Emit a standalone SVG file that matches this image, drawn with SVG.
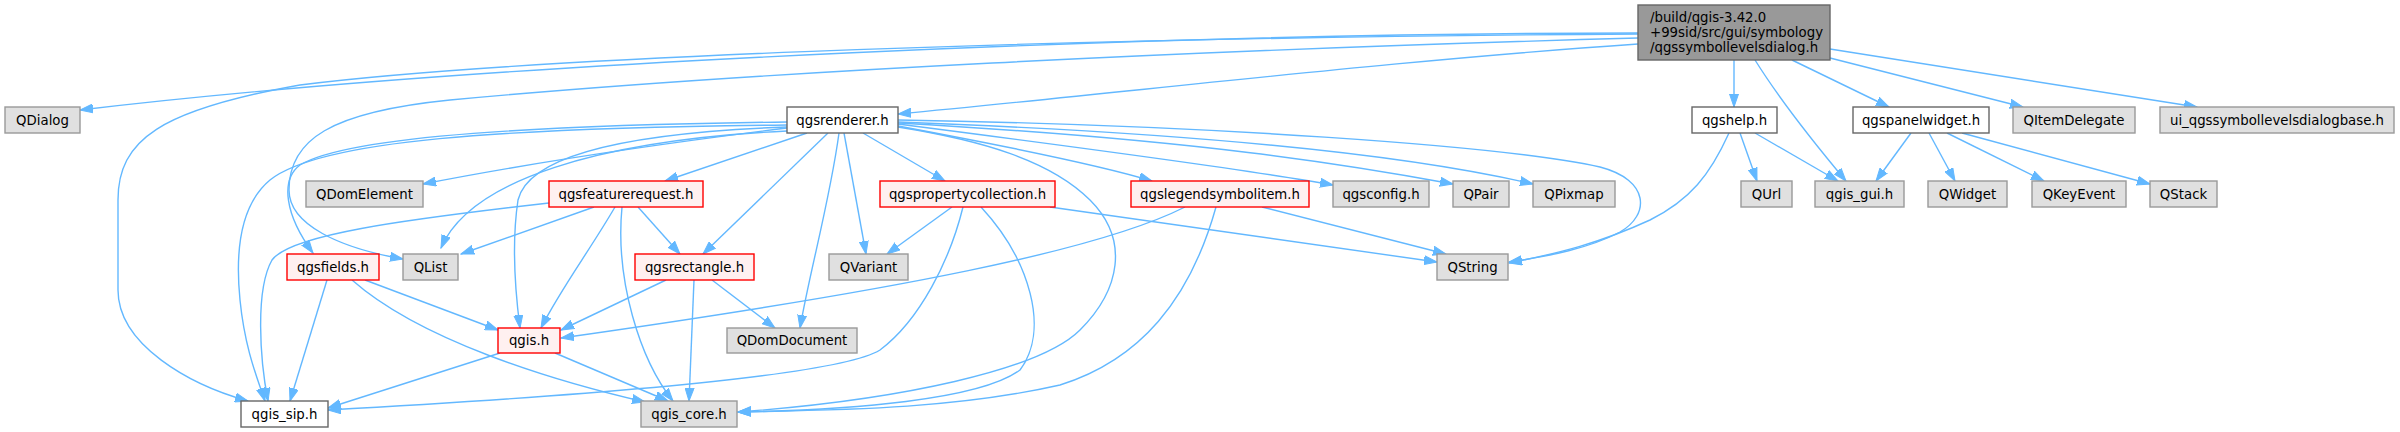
<svg xmlns="http://www.w3.org/2000/svg" width="2400" height="432" viewBox="0 0 2400 432">
<style>
text{font-family:"DejaVu Sans",sans-serif;font-size:13.3px;fill:#000;text-anchor:middle}
.m text{text-anchor:start}
rect{stroke-width:1.4}
.m rect{fill:#999999;stroke:#666666}
.g rect{fill:#e0e0e0;stroke:#999999}
.w rect{fill:#ffffff;stroke:#666666}
.r rect{fill:#fff0f0;stroke:#ff0000}
#edges path{fill:none;stroke:#63b8ff;stroke-width:1.4;marker-end:url(#arr)}
</style>
<defs>
<marker id="arr" markerUnits="userSpaceOnUse" markerWidth="14" markerHeight="10" refX="13" refY="5" orient="auto">
<path d="M0,0.5 L13,5 L0,9.5 z" fill="#63b8ff" stroke="#63b8ff" stroke-width="1"/>
</marker>
</defs>
<rect width="2400" height="432" fill="#ffffff"/>
<g id="edges">
<path d="M1638,33 C1200,33 500,60 80,110"/>
<path d="M1638,34 C1000,38 500,60 300,85 C160,110 118,140 118,200 L118,290 C118,345 190,385 248,401"/>
<path d="M1638,38 C1200,50 750,72 450,100 C330,112 289,140 289,190 C289,225 340,248 403,259"/>
<path d="M1638,44 C1400,60 1150,90 898,114"/>
<path d="M1734,60 L1734,107"/>
<path d="M1755,60 C1780,100 1820,150 1846,181"/>
<path d="M1792,60 L1889,107"/>
<path d="M1830,58 L2023,107"/>
<path d="M1830,49 L2197,107"/>
<path d="M1740,133 L1757,181"/>
<path d="M1755,133 L1838,181"/>
<path d="M1729,133 C1710,175 1690,200 1650,220 C1600,243 1560,253 1509,263"/>
<path d="M1911,133 L1876,181"/>
<path d="M1929,133 L1955,181"/>
<path d="M1947,133 L2044,181"/>
<path d="M1962,133 L2150,184"/>
<path d="M787,128 C650,145 520,165 423,184"/>
<path d="M787,122 C550,125 350,135 300,165 C280,180 285,215 313,253"/>
<path d="M787,125 C500,128 320,140 270,180 C240,205 235,250 240,300 C245,350 258,380 265,401"/>
<path d="M787,131 C600,140 470,180 441,248"/>
<path d="M787,127 C650,132 530,150 518,200 C512,240 515,290 520,328"/>
<path d="M807,133 L665,181"/>
<path d="M828,133 L703,254"/>
<path d="M839,133 C830,200 810,270 800,328"/>
<path d="M844,133 L866,254"/>
<path d="M863,133 L945,181"/>
<path d="M898,127 C980,140 1050,160 1090,200 C1130,240 1120,290 1080,330 C1040,370 900,400 738,412"/>
<path d="M898,126 C1000,145 1100,165 1152,181"/>
<path d="M898,124 C1100,150 1250,170 1333,185"/>
<path d="M898,123 C1200,140 1350,165 1453,184"/>
<path d="M898,122 C1250,135 1430,160 1533,184"/>
<path d="M898,120 C1200,125 1500,145 1600,167 C1650,180 1650,215 1620,232 C1590,248 1550,256 1509,262"/>
<path d="M549,203 C400,220 290,235 272,260 C255,290 260,360 268,401"/>
<path d="M594,207 L461,254"/>
<path d="M615,207 C590,250 560,290 541,328"/>
<path d="M622,207 C615,280 640,360 673,401"/>
<path d="M638,207 L680,254"/>
<path d="M327,280 L290,401"/>
<path d="M365,280 L498,330"/>
<path d="M352,280 C420,340 550,380 645,402"/>
<path d="M500,353 L328,408"/>
<path d="M555,353 L668,401"/>
<path d="M666,280 L561,330"/>
<path d="M694,280 L689,401"/>
<path d="M712,280 L775,328"/>
<path d="M952,207 L887,254"/>
<path d="M963,207 C950,260 920,320 880,350 C840,375 600,395 328,410"/>
<path d="M981,207 C1030,260 1050,330 1020,370 C980,400 850,410 738,412"/>
<path d="M1050,207 L1437,262"/>
<path d="M1185,207 C1100,250 900,290 561,338"/>
<path d="M1216,207 C1190,300 1140,360 1060,385 C950,410 830,410 738,412"/>
<path d="M1262,207 L1446,254"/>
</g>
<g id="main" class="m"><rect x="1638" y="5" width="192" height="55"/><text x="1650" y="22">/build/qgis-3.42.0</text><text x="1650" y="37">+99sid/src/gui/symbology</text><text x="1650" y="52">/qgssymbollevelsdialog.h</text></g>
<g id="QDialog" class="g"><rect x="5" y="107" width="75" height="26"/><text x="42.5" y="124.5">QDialog</text></g>
<g id="qgsrenderer" class="w"><rect x="787" y="107" width="111" height="26"/><text x="842.5" y="124.5">qgsrenderer.h</text></g>
<g id="qgshelp" class="w"><rect x="1692" y="107" width="85" height="26"/><text x="1734.5" y="124.5">qgshelp.h</text></g>
<g id="qgspanelwidget" class="w"><rect x="1853" y="107" width="136" height="26"/><text x="1921" y="124.5">qgspanelwidget.h</text></g>
<g id="QItemDelegate" class="g"><rect x="2013" y="107" width="122" height="26"/><text x="2074" y="124.5">QItemDelegate</text></g>
<g id="ui_base" class="g"><rect x="2160" y="107" width="234" height="26"/><text x="2277" y="124.5">ui_qgssymbollevelsdialogbase.h</text></g>
<g id="QDomElement" class="g"><rect x="306" y="181" width="117" height="26"/><text x="364.5" y="198.5">QDomElement</text></g>
<g id="qgsfeaturerequest" class="r"><rect x="549" y="181" width="154" height="26"/><text x="626" y="198.5">qgsfeaturerequest.h</text></g>
<g id="qgspropertycollection" class="r"><rect x="880" y="181" width="175" height="26"/><text x="967.5" y="198.5">qgspropertycollection.h</text></g>
<g id="qgslegendsymbolitem" class="r"><rect x="1131" y="181" width="178" height="26"/><text x="1220" y="198.5">qgslegendsymbolitem.h</text></g>
<g id="qgsconfig" class="g"><rect x="1333" y="181" width="96" height="26"/><text x="1381" y="198.5">qgsconfig.h</text></g>
<g id="QPair" class="g"><rect x="1453" y="181" width="56" height="26"/><text x="1481" y="198.5">QPair</text></g>
<g id="QPixmap" class="g"><rect x="1533" y="181" width="82" height="26"/><text x="1574" y="198.5">QPixmap</text></g>
<g id="QUrl" class="g"><rect x="1741" y="181" width="51" height="26"/><text x="1766.5" y="198.5">QUrl</text></g>
<g id="qgis_gui" class="g"><rect x="1815" y="181" width="89" height="26"/><text x="1859.5" y="198.5">qgis_gui.h</text></g>
<g id="QWidget" class="g"><rect x="1928" y="181" width="79" height="26"/><text x="1967.5" y="198.5">QWidget</text></g>
<g id="QKeyEvent" class="g"><rect x="2032" y="181" width="94" height="26"/><text x="2079" y="198.5">QKeyEvent</text></g>
<g id="QStack" class="g"><rect x="2150" y="181" width="67" height="26"/><text x="2183.5" y="198.5">QStack</text></g>
<g id="qgsfields" class="r"><rect x="287" y="254" width="92" height="26"/><text x="333" y="271.5">qgsfields.h</text></g>
<g id="QList" class="g"><rect x="403" y="254" width="55" height="26"/><text x="430.5" y="271.5">QList</text></g>
<g id="qgsrectangle" class="r"><rect x="635" y="254" width="119" height="26"/><text x="694.5" y="271.5">qgsrectangle.h</text></g>
<g id="QVariant" class="g"><rect x="829" y="254" width="79" height="26"/><text x="868.5" y="271.5">QVariant</text></g>
<g id="QString" class="g"><rect x="1437" y="254" width="71" height="26"/><text x="1472.5" y="271.5">QString</text></g>
<g id="qgis" class="r"><rect x="498" y="328" width="62" height="25"/><text x="529" y="345">qgis.h</text></g>
<g id="QDomDocument" class="g"><rect x="727" y="328" width="130" height="25"/><text x="792" y="345">QDomDocument</text></g>
<g id="qgis_sip" class="w"><rect x="241" y="401" width="87" height="26"/><text x="284.5" y="418.5">qgis_sip.h</text></g>
<g id="qgis_core" class="g"><rect x="641" y="401" width="96" height="26"/><text x="689" y="418.5">qgis_core.h</text></g>
</svg>
